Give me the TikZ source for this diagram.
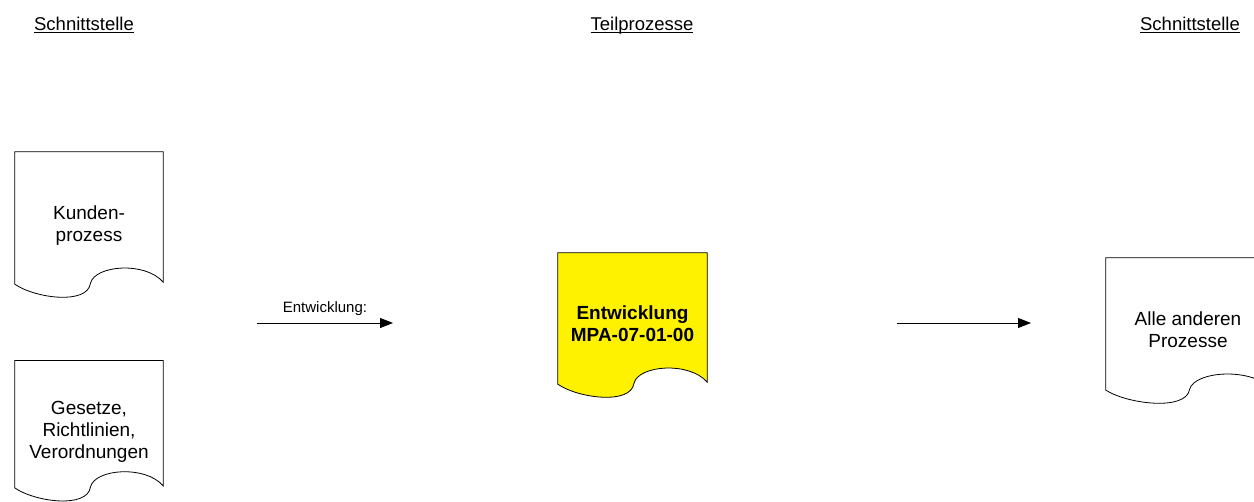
\documentclass[tikz,border=0pt]{standalone}
\usepackage{fontspec}
\setmainfont{Liberation Sans}
\usetikzlibrary{arrows.meta,calc}

\tikzset{
  doc/.style={minimum width=148pt, minimum height=145pt, inner sep=0pt, align=center,
    font=\fontsize{19}{22}\selectfont},
  head/.style={anchor=base, font=\fontsize{18.5}{22}\selectfont},
  flow/.style={line width=0.9pt, -{Triangle[length=13pt,width=10pt]}},
}
% document outline round a node: flat top, wavy bottom
\newcommand{\docoutline}[2][white]{%
  \draw [line width=0.8pt, fill=#1] (#2.north west) -- (#2.north east) -- ($(#2.south east)+(0,-15)$)
    .. controls ($(#2.south west)!0.88!(#2.south east)+(0,-36)$) and ($(#2.south west)!0.54!(#2.south east)+(0,-32)$) .. ($(#2.south west)!0.51!(#2.south east)+(0,-14)$)
    .. controls ($(#2.south west)!0.49!(#2.south east)+(0,8)$) and ($(#2.south west)!0.135!(#2.south east)+(0,1)$) .. ($(#2.south west)+(0,-13)$) -- cycle;}

\begin{document}
\begin{tikzpicture}[x=1pt,y=-1pt]
\useasboundingbox (0,0) rectangle (1254,502);
\node[head] (hleft) at (84,30.7) {\underline{\smash{Schnittstelle}}};
\node[head] (hmid) at (642,30.7) {\underline{\smash{Teilprozesse}}};
\node[head] (hright) at (1190,30.7) {\underline{\smash{Schnittstelle}}};
%
\node[doc] (kunde) at (89,224.5) {};
\docoutline{kunde}
\node[doc] at (89,225.5) {Kunden-\\prozess};
\node[doc, minimum height=140pt] (gesetz) at (89,430.7) {};
\docoutline{gesetz}
\node[doc] at (89,432) {Gesetze,\\Richtlinien,\\Verordnungen};
\node[doc, minimum width=149pt, minimum height=144pt] (entw) at (632.5,325) {};
\docoutline[yellow]{entw}
\node[doc, font=\fontsize{19}{22}\selectfont\bfseries] at (632.5,324) {Entwicklung\\MPA-07-01-00};
\node[doc, minimum width=164pt] (andere) at (1188,330.5) {};
\docoutline{andere}
\node[doc] at (1188,330) {Alle anderen\\Prozesse};
%
\coordinate (in1) at (257,323);
\coordinate (in2) at (393,323);
\coordinate (out1) at (897,323);
\coordinate (out2) at (1031,323);
\draw [flow] (in1) -- node[anchor=base, yshift=10.3pt, font=\fontsize{15}{18}\selectfont] (lbl) {Entwicklung:} (in2);
\draw [flow] (out1) -- (out2);
\end{tikzpicture}
\end{document}
